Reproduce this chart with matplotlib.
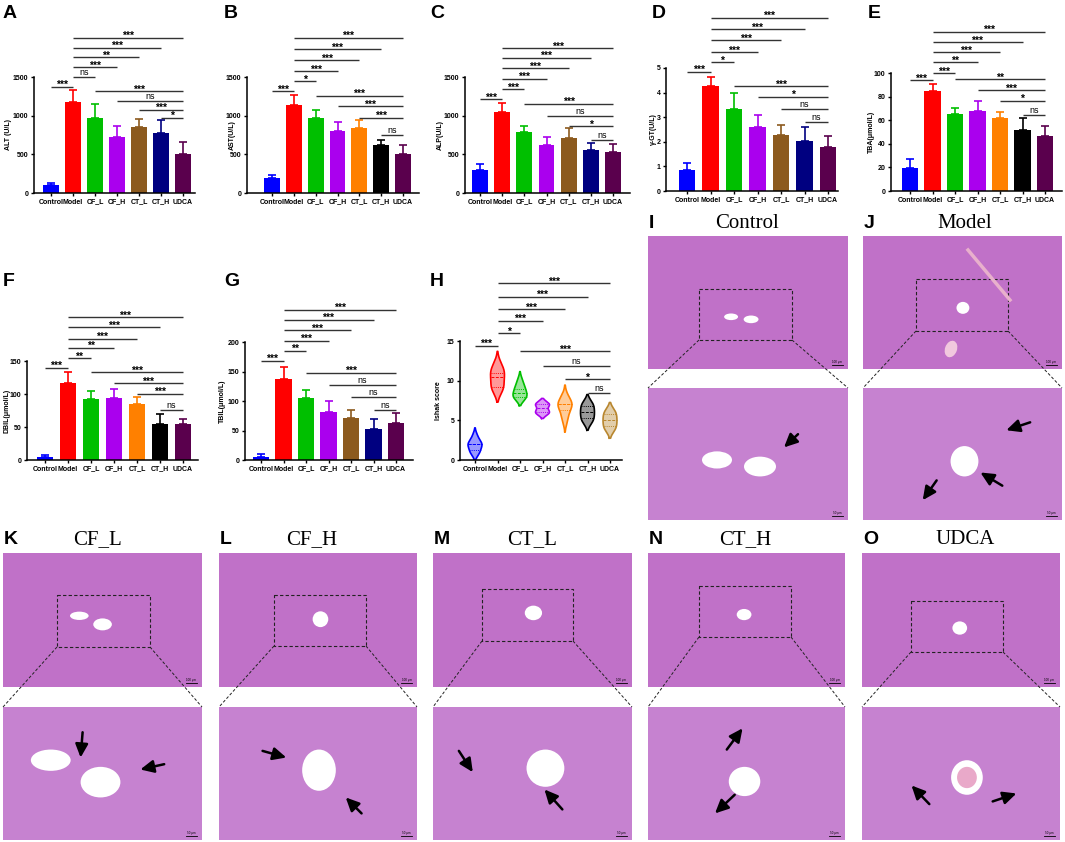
import numpy as np
import matplotlib
matplotlib.use('Agg')
import matplotlib.pyplot as plt
from matplotlib.patches import Rectangle, Ellipse

plt.rcParams['font.family'] = ['Liberation Sans', 'DejaVu Sans']

W, H = 1065, 842
fig = plt.figure(figsize=(W / 100, H / 100), dpi=100)

groups = ['Control', 'Model', 'CF_L', 'CF_H', 'CT_L', 'CT_H', 'UDCA']

# ---- data (mean, sd) ----
alt_mean = [100, 1180, 975, 720, 855, 780, 510]
alt_sd = [25, 150, 175, 145, 105, 160, 150]
ast_mean = [200, 1140, 965, 805, 840, 615, 500]
ast_sd = [30, 130, 105, 110, 110, 75, 120]
alp_mean = [300, 1045, 790, 625, 715, 560, 530]
alp_sd = [70, 120, 75, 95, 120, 90, 110]
ggt_mean = [0.85, 4.25, 3.35, 2.6, 2.27, 2.05, 1.8]
ggt_sd = [0.3, 0.37, 0.62, 0.48, 0.41, 0.55, 0.43]
tba_mean = [19.5, 84.5, 65, 68, 61.5, 52, 46.5]
tba_sd = [8, 6.5, 5, 8.5, 5.5, 9.5, 8.5]
dbil_mean = [4, 117, 92, 93.5, 85.5, 55, 55]
dbil_sd = [3, 16, 13, 13.5, 9.5, 15, 7]
tbil_mean = [5, 138, 105, 82, 71, 52, 63]
tbil_sd = [6, 20, 13, 18, 13, 18, 16]

# Ishak scores per group
ishak = [
    [1, 1, 2, 2, 2, 3],
    [9, 9, 10, 11, 11, 12],
    [8, 8, 8, 9, 9, 10],
    [6, 6, 6, 7, 7, 7],
    [5, 6, 7, 7, 7, 8],
    [5, 5, 6, 6, 7, 7],
    [4, 4, 5, 5, 6, 6],
]

# significance brackets: (group i, group j, height, label)
alt_sig = [(0, 1, 1377, '***'), (1, 2, 1503, 'ns'), (1, 3, 1629, '***'), (1, 4, 1755, '**'),
           (1, 5, 1881, '***'), (1, 6, 2008, '***'), (2, 6, 1320, '***'), (3, 6, 1193, 'ns'),
           (4, 6, 1076, '***'), (5, 6, 972, '*')]
ast_sig = [(0, 1, 1320, '***'), (1, 2, 1442, '*'), (1, 3, 1577, '***'), (1, 4, 1721, '***'),
           (1, 5, 1864, '***'), (1, 6, 2008, '***'), (2, 6, 1259, '***'), (3, 6, 1120, '***'),
           (4, 6, 976, '***'), (5, 6, 750, 'ns')]
alp_sig = [(0, 1, 1214, '***'), (1, 2, 1344, '***'), (1, 3, 1478, '***'), (1, 4, 1612, '***'),
           (1, 5, 1751, '***'), (1, 6, 1877, '***'), (2, 6, 1157, '***'), (3, 6, 997, 'ns'),
           (4, 6, 867, '*'), (5, 6, 685, 'ns')]
ggt_sig = [(0, 1, 4.85, '***'), (1, 2, 5.23, '*'), (1, 3, 5.65, '***'), (1, 4, 6.12, '***'),
           (1, 5, 6.57, '***'), (1, 6, 7.04, '***'), (2, 6, 4.25, '***'), (3, 6, 3.84, '*'),
           (4, 6, 3.33, 'ns'), (5, 6, 2.80, 'ns')]
tba_sig = [(0, 1, 93.7, '***'), (1, 2, 100, '***'), (1, 3, 109, '**'), (1, 4, 117.6, '***'),
           (1, 5, 126.4, '***'), (1, 6, 135, '***'), (2, 6, 94.6, '**'), (3, 6, 85.3, '***'),
           (4, 6, 76.5, '*'), (5, 6, 64, 'ns')]
dbil_sig = [(0, 1, 139.8, '***'), (1, 2, 154.5, '**'), (1, 3, 170, '**'), (1, 4, 184, '***'),
            (1, 5, 200.8, '***'), (1, 6, 216.8, '***'), (2, 6, 133.3, '***'), (3, 6, 116.7, '***'),
            (4, 6, 100.6, '***'), (5, 6, 75.5, 'ns')]
tbil_sig = [(0, 1, 168.3, '***'), (1, 2, 185.3, '**'), (1, 3, 202.3, '***'), (1, 4, 220.5, '***'),
            (1, 5, 238, '***'), (1, 6, 255, '***'), (2, 6, 147.9, '***'), (3, 6, 127.5, 'ns'),
            (4, 6, 106, 'ns'), (5, 6, 85.5, 'ns')]
ishak_sig = [(0, 1, 14.4, '***'), (1, 2, 16, '*'), (1, 3, 17.55, '***'), (1, 4, 19, '***'),
             (1, 5, 20.6, '***'), (1, 6, 22.3, '***'), (2, 6, 13.7, '***'), (3, 6, 11.9, 'ns'),
             (4, 6, 10.2, '*'), (5, 6, 8.4, 'ns')]

blue, red, green, purple = '#0000FF', '#FF0000', '#00BF00', '#AA00EE'
brown, navy, maroon = '#8C5A1E', '#000080', '#5A004D'
orange, black = '#FF8000', '#000000'
cols1 = [blue, red, green, purple, brown, navy, maroon]
cols2 = [blue, red, green, purple, orange, black, maroon]
violin_cols = [blue, red, green, purple, orange, black, '#B8862E']


def px_axes(l, t, r, b):
    return fig.add_axes([l / W, 1 - b / H, (r - l) / W, (b - t) / H])


def style_axis(ax, left, right, top, y0, ytop, tickmax, step, ctrl, udca, ylabel, ylab_x):
    ppy = tickmax / (y0 - ytop)
    ax.set_ylim(0, (y0 - top) * ppy)
    ppx = (udca - ctrl) / 6
    ax.set_xlim((left - ctrl) / ppx, (right - ctrl) / ppx)
    for s in ['top', 'right']:
        ax.spines[s].set_visible(False)
    for s in ['left', 'bottom']:
        ax.spines[s].set_linewidth(1.1)
        ax.spines[s].set_zorder(5)
    ax.spines['left'].set_bounds(0, tickmax)
    ax.patch.set_alpha(0)
    ticks = np.arange(0, tickmax + step / 2, step)
    ax.set_yticks(ticks)
    ax.set_yticklabels([('%g' % t) for t in ticks], fontsize=5, fontweight='bold')
    ax.set_xticks(range(7))
    ax.set_xticklabels(groups, fontsize=5, fontweight='bold')
    ax.tick_params(length=2.5, width=1, pad=1.5)
    ax.set_ylabel(ylabel, fontsize=5, fontweight='bold')
    # y label centred on a fixed pixel column, halfway up the 0..max spine
    ax.yaxis.set_label_coords((ylab_x + 3.5 - left) / (right - left), (y0 - ytop) / 2 / (y0 - top))
    return ppy


def draw_sig(ax, sig, ppy):
    for i, j, y, lab in sig:
        ax.plot([i, j], [y, y], color='#333333', lw=1.0, clip_on=False, solid_capstyle='butt')
        if lab == 'ns':
            ax.text((i + j) / 2, y + 2 * ppy, lab, ha='center', va='baseline', fontsize=6.5,
                    clip_on=False)
        else:
            ax.text((i + j) / 2, y - 1.5 * ppy, lab, ha='center', va='baseline', fontsize=7.5,
                    fontweight='bold', clip_on=False)


def bar_panel(left, right, top, y0, ytop, tickmax, step, ctrl, udca, means, sds, colors, sig,
              ylabel, ylab_x):
    ax = px_axes(left, top, right, y0)
    ppy = style_axis(ax, left, right, top, y0, ytop, tickmax, step, ctrl, udca, ylabel, ylab_x)
    x = np.arange(7)
    ax.bar(x, means, width=0.72, color=colors, zorder=2)
    for i in range(7):
        ax.errorbar(x[i], means[i], yerr=[[0], [sds[i]]], color=colors[i], capsize=2.8,
                    elinewidth=1.2, capthick=1.2, zorder=1)
    draw_sig(ax, sig, ppy)
    return ax


bar_panel(34, 195, 2, 193, 77, 1500, 500, 51, 183, alt_mean, alt_sd, cols1, alt_sig, 'ALT (U/L)', 8)
bar_panel(247, 419, 2, 193, 77, 1500, 500, 272, 403, ast_mean, ast_sd, cols2, ast_sig, 'AST(U/L)', 232)
bar_panel(465, 630, 2, 193, 77, 1500, 500, 480, 613, alp_mean, alp_sd, cols1, alp_sig, 'ALP(U/L)', 440)
bar_panel(666, 838, 2, 191, 68, 5, 1, 687, 828, ggt_mean, ggt_sd, cols1, ggt_sig, 'γ-GT(U/L)', 653)
bar_panel(891, 1062, 2, 191, 73, 100, 20, 910, 1045, tba_mean, tba_sd, cols2, tba_sig, 'TBA(μmol/L)', 871)
bar_panel(27, 198, 275, 460, 361, 150, 50, 45, 183, dbil_mean, dbil_sd, cols2, dbil_sig, 'DBIL(μmol/L)', 7)
bar_panel(245, 413, 275, 460, 342, 200, 50, 261, 396, tbil_mean, tbil_sd, cols1, tbil_sig, 'TBIL(μmol/L)', 222)

# ---- H: violin plot ----
axh = px_axes(460, 275, 622, 460)
ppy = style_axis(axh, 460, 622, 275, 460, 341, 15, 5, 475, 610, 'Ishak score', 439)


def kde(vals, grid):
    v = np.asarray(vals, float)
    bw = v.std(ddof=1) * len(v) ** (-1 / 5)
    d = np.exp(-0.5 * ((grid[:, None] - v[None, :]) / bw) ** 2).sum(axis=1)
    return d, bw


for k, vals in enumerate(ishak):
    v = np.asarray(vals, float)
    _, bw = kde(v, np.array([0.0]))
    grid = np.linspace(v.min() - 2 * bw, v.max() + 2 * bw, 200)
    dens, _ = kde(v, grid)
    half = dens / dens.max() * 0.31
    c = violin_cols[k]
    axh.fill_betweenx(grid, k - half, k + half, facecolor=c, alpha=0.4, lw=0, zorder=2)
    axh.plot(np.r_[k - half, (k + half)[::-1], k - half[0]], np.r_[grid, grid[::-1], grid[0]],
             color=c, lw=1.2, zorder=3)
    for q, ls in [(50, (0, (3, 1.5))), (25, (0, (1, 1.2))), (75, (0, (1, 1.2)))]:
        yq = np.percentile(v, q)
        hw = np.interp(yq, grid, half)
        axh.plot([k - hw, k + hw], [yq, yq], color=c, lw=0.7, ls=ls, zorder=3)
draw_sig(axh, ishak_sig, ppy)

# ---- overlay for letters and histology panels ----
ov = fig.add_axes([0, 0, 1, 1])
ov.set_xlim(0, W)
ov.set_ylim(H, 0)
ov.axis('off')
ov.patch.set_alpha(0)

for lab, x, y in [('A', 3, 14), ('B', 224, 14), ('C', 430, 14), ('D', 652, 14), ('E', 868, 14),
                  ('F', 3, 281), ('G', 224, 281), ('H', 430, 281)]:
    ov.text(x, y, lab, fontsize=14, fontweight='bold', va='center', ha='left')

upper_col = '#C071C8'
lower_col = '#C682D0'

# letter, title, title x, left, right, upper (top,bottom), lower (top,bottom), box, vessels, arrows
hist = [
    ('I', 'Control', 747, 648, 848, (236, 369), (388, 520), (699, 792, 289, 340),
     [(0.27, 0.42, 0.48, 0.61), (0.48, 0.64, 0.52, 0.67)],
     [((0.68, 0.45), (0.75, 0.35))]),
    ('J', 'Model', 965, 863, 1062, (236, 369), (388, 520), (916, 1008, 279, 331),
     [(0.44, 0.58, 0.44, 0.67)],
     [((0.72, 0.32), (0.84, 0.26)), ((0.59, 0.64), (0.70, 0.74)), ((0.30, 0.85), (0.37, 0.70))]),
    ('K', 'CF_L', 98, 3, 202, (553, 687), (707, 840), (57, 150, 595, 647),
     [(0.14, 0.34, 0.32, 0.48), (0.39, 0.59, 0.45, 0.68)],
     [((0.39, 0.38), (0.40, 0.19)), ((0.69, 0.47), (0.81, 0.43))]),
    ('L', 'CF_H', 312, 219, 417, (553, 687), (707, 840), (274, 366, 595, 646),
     [(0.42, 0.59, 0.32, 0.63)],
     [((0.34, 0.38), (0.22, 0.33)), ((0.64, 0.68), (0.72, 0.80))]),
    ('M', 'CT_L', 532, 433, 632, (553, 687), (707, 840), (482, 573, 589, 641),
     [(0.47, 0.66, 0.32, 0.60)],
     [((0.20, 0.49), (0.13, 0.33)), ((0.56, 0.62), (0.65, 0.77))]),
    ('N', 'CT_H', 745, 648, 845, (553, 687), (707, 840), (699, 791, 586, 637),
     [(0.41, 0.57, 0.45, 0.67)],
     [((0.48, 0.16), (0.40, 0.32)), ((0.34, 0.80), (0.44, 0.66))]),
    ('O', 'UDCA', 965, 862, 1060, (553, 687), (707, 840), (911, 1003, 601, 652),
     [(0.45, 0.61, 0.40, 0.66)],
     [((0.25, 0.59), (0.34, 0.73)), ((0.78, 0.65), (0.66, 0.71))]),
]

for letter, title, tx, x0, x1, up, lo, box, vessels, arrows in hist:
    ov.text(x0 + 1, up[0] - 13, letter, fontsize=14, fontweight='bold', va='center', ha='left')
    ov.text(tx, up[0] - 13, title, fontsize=15, family=['Liberation Serif', 'DejaVu Serif'],
            va='center', ha='center')
    ov.add_patch(Rectangle((x0, up[0]), x1 - x0, up[1] - up[0], facecolor=upper_col, lw=0))
    ov.add_patch(Rectangle((x0, lo[0]), x1 - x0, lo[1] - lo[0], facecolor=lower_col, lw=0))
    bx0, bx1, by0, by1 = box
    for fx0, fx1, fy0, fy1 in vessels:
        # vessel in the overview image (inside the dashed box)
        ov.add_patch(Ellipse((bx0 + (fx0 + fx1) / 2 * (bx1 - bx0), by0 + (fy0 + fy1) / 2 * (by1 - by0)),
                             (fx1 - fx0) * (bx1 - bx0), (fy1 - fy0) * (by1 - by0),
                             facecolor='white', lw=0))
        # same vessel magnified
        ov.add_patch(Ellipse((x0 + (fx0 + fx1) / 2 * (x1 - x0), lo[0] + (fy0 + fy1) / 2 * (lo[1] - lo[0])),
                             (fx1 - fx0) * (x1 - x0), (fy1 - fy0) * (lo[1] - lo[0]),
                             facecolor='white', lw=0))
    if letter == 'O':
        ov.add_patch(Ellipse((x0 + 0.53 * (x1 - x0), lo[0] + 0.53 * (lo[1] - lo[0])),
                             0.1 * (x1 - x0), 0.16 * (lo[1] - lo[0]), facecolor='#E9A9C9', lw=0))
    if letter == 'J':
        ov.add_patch(Ellipse((951, 349), 12, 17, angle=20, facecolor='#F1C8DE', lw=0))
        ov.plot([968, 1010], [250, 300], color='#E8B0CC', lw=2.5)
    ov.add_patch(Rectangle((bx0, by0), bx1 - bx0, by1 - by0, fill=False, edgecolor='#222222',
                           lw=0.8, ls=(0, (3, 2))))
    ov.plot([bx0, x0], [by1, lo[0]], color='#222222', lw=0.7, ls=(0, (3, 2)))
    ov.plot([bx1, x1], [by1, lo[0]], color='#222222', lw=0.7, ls=(0, (3, 2)))
    for (tx_, ty_), (sx_, sy_) in arrows:
        ov.annotate('', xy=(x0 + tx_ * (x1 - x0), lo[0] + ty_ * (lo[1] - lo[0])),
                    xytext=(x0 + sx_ * (x1 - x0), lo[0] + sy_ * (lo[1] - lo[0])),
                    arrowprops=dict(arrowstyle='-|>,head_length=0.8,head_width=0.38',
                                    color='black', lw=1.8, shrinkA=0, shrinkB=0))
    for (yt, yb), sb in [(up, '100 μm'), (lo, '50 μm')]:
        ov.plot([x1 - 16, x1 - 5], [yb - 4, yb - 4], color='black', lw=0.6)
        ov.text(x1 - 10.5, yb - 5, sb, fontsize=2.2, ha='center', va='bottom')

fig.savefig('out.png', dpi=100)
